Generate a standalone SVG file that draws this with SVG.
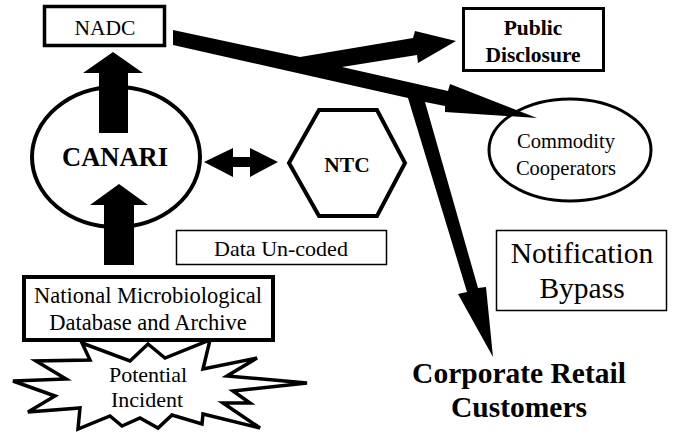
<svg xmlns="http://www.w3.org/2000/svg" width="673" height="435" viewBox="0 0 673 435">
<style>
text{font-family:'Liberation Serif','Times New Roman',serif;fill:#000;text-anchor:middle}
.b{font-weight:bold}
.box{fill:#fff;stroke:#000}
.arr{fill:#000;stroke:none}
</style>
<rect width="673" height="435" fill="#fff"/>
<g id="nadc">
<rect class="box" x="44.5" y="6.5" width="120" height="39" stroke-width="3.5"/>
<text x="105" y="35" font-size="21.5">NADC</text>
</g>
<g id="canari">
<ellipse class="box" cx="116" cy="157" rx="84" ry="70" stroke-width="4"/>
<text class="b" x="115" y="166" font-size="26.5">CANARI</text>
</g>
<g id="ntc">
<polygon class="box" points="289,163 319,110 377,110 405,163 377,216 319,216" stroke-width="4"/>
<text class="b" x="347" y="172" font-size="21.5">NTC</text>
</g>
<g id="data-uncoded">
<rect class="box" x="176.5" y="230.5" width="210" height="34" stroke-width="1.5"/>
<text x="281" y="256" font-size="22">Data Un-coded</text>
</g>
<g id="incident">
<polygon class="box" stroke-width="3.5" stroke-linejoin="miter" points="13,381 66,379 36,361 90,360 82,343 130,361 148,344 165,358 210,340 203,369 257,358 227,376 307,383 233,391 250,403 223,403 260,428 203,414 202,424 172,415 158,428 140,418 122,426 110,416 78,429 80,408 28,412 55,396"/>
<text x="148" y="382" font-size="22">Potential</text>
<text x="147" y="407" font-size="22">Incident</text>
</g>
<g id="nmda">
<rect class="box" x="24" y="277" width="249" height="63" stroke-width="4"/>
<text x="148" y="303" font-size="22.5">National Microbiological</text>
<text x="148" y="330" font-size="22.5">Database and Archive</text>
</g>
<g id="public">
<rect class="box" x="463.5" y="8.5" width="140" height="62" stroke-width="3"/>
<text class="b" x="533" y="35" font-size="21.5">Public</text>
<text class="b" x="533" y="62" font-size="21.5">Disclosure</text>
</g>
<g id="commodity">
<ellipse class="box" cx="570" cy="150" rx="81" ry="51" stroke-width="3"/>
<text x="566" y="148" font-size="20.5">Commodity</text>
<text x="566" y="175" font-size="20.5">Cooperators</text>
</g>
<g id="notification">
<rect class="box" x="496.5" y="230.5" width="170" height="80" stroke-width="1.5"/>
<text x="582" y="263" font-size="29.5">Notification</text>
<text x="582" y="298" font-size="29.5">Bypass</text>
</g>
<g id="corporate">
<text class="b" x="519" y="383" font-size="29.5">Corporate Retail</text>
<text class="b" x="519" y="417" font-size="29.5">Customers</text>
</g>
<g id="connectors">
<polygon class="arr" points="99,133 128,133 128,73 143,73 113,52 83,73 99,73"/>
<polygon class="arr" points="104,265 134,265 134,205 148,205 119,184 90,205 104,205"/>
<polygon class="arr" points="204,162 233,148 233,157 250,157 250,148 278,162 250,177 250,167 233,167 233,177"/>
<polygon class="arr" points="173,30 300,57 413,38 415,31 456,41 418,63 417,55 342,67 448,91 450,84 537,118 445,112 445,106 425,102 478,288 486,287 493,357 458,294 467,292 408,98 173,45"/>
</g>
</svg>
